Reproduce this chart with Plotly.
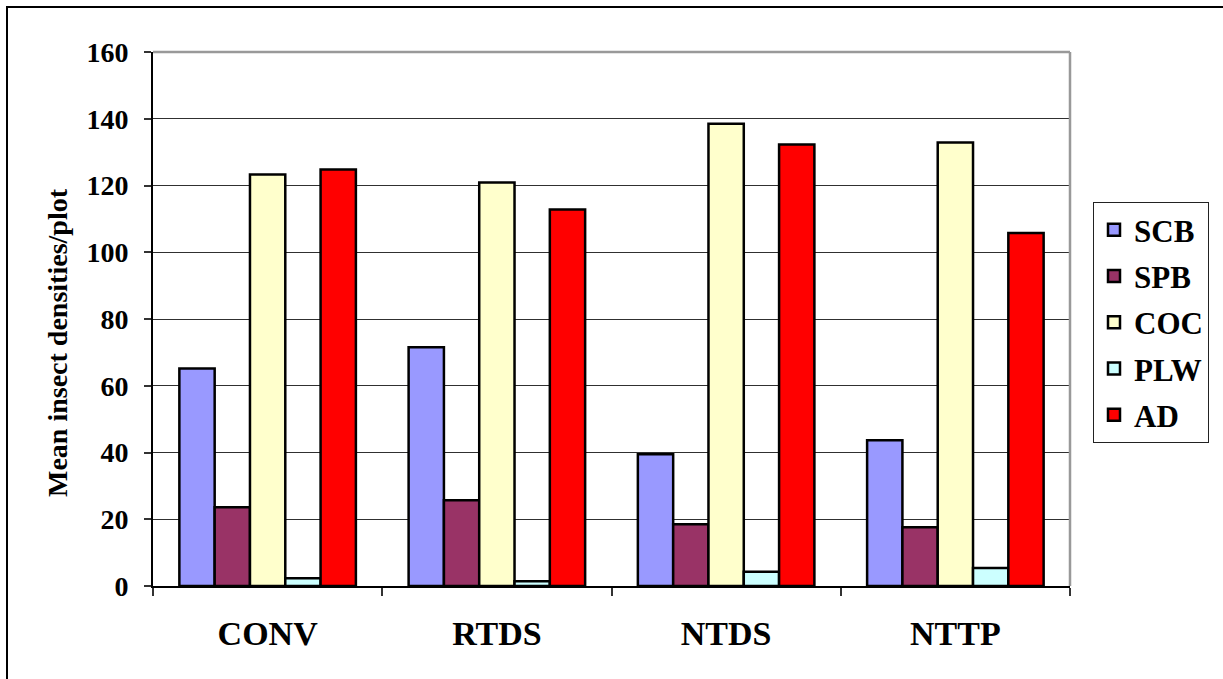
import plotly.graph_objects as go

# Tillage systems on the x axis
systems = ["CONV", "RTDS", "NTDS", "NTTP"]

# Mean insect densities per plot for each insect group
scb = [65.2, 71.5, 39.5, 43.7]
spb = [23.6, 25.7, 18.5, 17.6]
coc = [123.3, 120.9, 138.5, 132.9]
plw = [2.3, 1.4, 4.3, 5.4]
ad = [124.8, 112.8, 132.3, 105.8]

series = [
    ("SCB", scb, "#9999FF"),
    ("SPB", spb, "#993366"),
    ("COC", coc, "#FFFFCC"),
    ("PLW", plw, "#CCFFFF"),
    ("AD", ad, "#FF0000"),
]

y_ticks = [0, 20, 40, 60, 80, 100, 120, 140, 160]
y_title = "Mean insect densities/plot"

FONT = "Liberation Serif, Times New Roman, serif"

fig = go.Figure()
for name, vals, color in series:
    fig.add_trace(go.Bar(
        x=systems, y=vals, name=name, legendgroup=name,
        marker=dict(color=color, line=dict(color="black", width=2.5)),
    ))

W, H = 1223, 679
L, R, T, B = 153, 153, 52, 93
pw, ph = W - L - R, H - T - B


def px_x(px):
    return (px - L) / pw


def px_y(py):
    return (H - B - py) / ph


fig.update_layout(
    width=W, height=H,
    margin=dict(l=L, r=R, t=T, b=B),
    paper_bgcolor="white", plot_bgcolor="white",
    barmode="group", bargap=0.23, bargroupgap=0,
    font=dict(family=FONT, color="black"),
    showlegend=True,
    legend=dict(
        x=px_x(1093), y=px_y(202), xanchor="left", yanchor="top",
        bgcolor="white", bordercolor="#222222", borderwidth=1,
        font=dict(family=FONT, size=31, weight="bold", color="black"),
        tracegroupgap=3, itemwidth=30,
    ),
    xaxis=dict(
        type="category", showgrid=False,
        showline=True, linecolor="black", linewidth=2,
        ticks="outside", tickson="boundaries", ticklen=8,
        tickcolor="#333333", tickwidth=1.5,
        tickfont=dict(family=FONT, size=34, weight="bold"),
        ticklabelstandoff=16,
    ),
    yaxis=dict(
        range=[0, 160], tickvals=y_ticks,
        showgrid=True, gridcolor="#303030", gridwidth=1,
        showline=True, linecolor="black", linewidth=2,
        ticks="outside", ticklen=7, tickcolor="#333333", tickwidth=1.5,
        tickfont=dict(family=FONT, size=28, weight="bold"),
        ticklabelstandoff=10,
        zeroline=False,
    ),
    annotations=[
        dict(text=y_title, textangle=-90, showarrow=False,
             xref="paper", yref="paper", x=px_x(57), y=px_y(343),
             xanchor="center", yanchor="middle",
             font=dict(family=FONT, size=28, weight="bold", color="black")),
    ],
    shapes=[
        # plot area border on the top and right
        dict(type="line", xref="paper", yref="paper", x0=0, x1=1, y0=1, y1=1,
             line=dict(color="#999999", width=2.5)),
        dict(type="line", xref="paper", yref="paper", x0=1, x1=1, y0=0, y1=1,
             line=dict(color="#999999", width=2.5)),
        # outer chart frame
        dict(type="rect", xref="paper", yref="paper",
             x0=px_x(7), x1=px_x(1235), y0=px_y(7), y1=px_y(700),
             line=dict(color="black", width=2), layer="below"),
    ],
)

fig.write_html("out.html")
